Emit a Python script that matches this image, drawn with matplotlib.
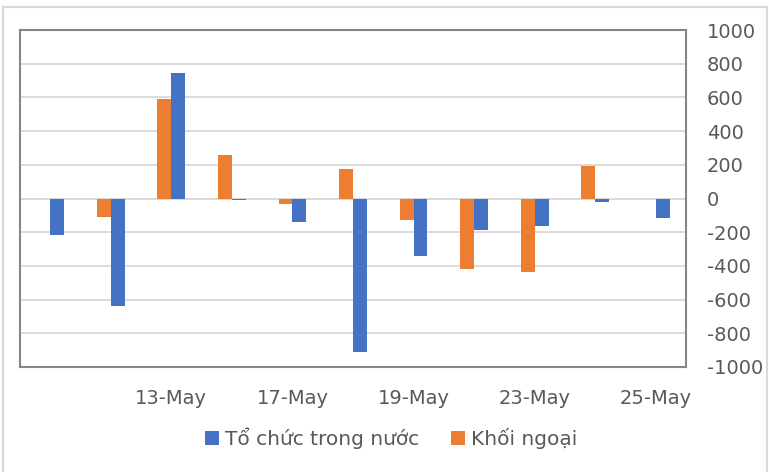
import matplotlib.pyplot as plt
import numpy as np
from matplotlib.patches import Rectangle

dates = ["11-May", "12-May", "13-May", "16-May", "17-May", "18-May",
         "19-May", "20-May", "23-May", "24-May", "25-May"]
to_chuc = [-215, -638, 747, -8, -139, -913, -341, -187, -163, -21, -118]
khoi_ngoai = [0, -110, 589, 256, -34, 177, -128, -420, -436, 195, 0]
shown_ticks = [2, 4, 6, 8, 10]

BLUE = "#4472C4"
ORANGE = "#ED7D31"
GREY = "#595959"

plt.rcParams['font.family'] = ['DejaVu Sans']
plt.rcParams['axes.unicode_minus'] = False

fig = plt.figure(figsize=(7.69, 4.72), dpi=100)
ax = fig.add_axes([20/769, 1 - 367/472, 666/769, 337/472])

x = np.arange(len(dates))
w = 0.23
ax.bar(x - w/2, khoi_ngoai, w, color=ORANGE, label="Khối ngoại", zorder=3)
ax.bar(x + w/2, to_chuc, w, color=BLUE, label="Tổ chức trong nước", zorder=3)

ax.set_xlim(-0.5, len(dates) - 0.5)
ax.set_ylim(-1000, 1000)
ax.set_yticks(range(-1000, 1001, 200))
ax.yaxis.tick_right()
ax.tick_params(axis='y', length=0, pad=15, labelsize=14, labelcolor=GREY)
ax.set_xticks(shown_ticks)
ax.set_xticklabels([dates[i] for i in shown_ticks])
ax.tick_params(axis='x', length=0, pad=16, labelsize=14, labelcolor=GREY)
ax.grid(axis='y', color="#D9D9D9", linewidth=1.3, zorder=0)
ax.axhline(0, color="#D9D9D9", linewidth=1.3, zorder=1)
for s in ax.spines.values():
    s.set_color("#868686")
    s.set_linewidth(1.5)

handles, labels = ax.get_legend_handles_labels()
fig.legend(handles[::-1], labels[::-1], loc='center', bbox_to_anchor=(391/769, 1 - 438/472),
           ncol=2, frameon=False, fontsize=14.5, labelcolor=GREY,
           handlelength=0.7, handleheight=0.7, handletextpad=0.3, columnspacing=1.6)

# outer chart border, bottom edge runs off the image like the reference
fig.patches.append(Rectangle((3/769, -10/472), 764/769, 475/472, transform=fig.transFigure,
                             fill=False, edgecolor="#D9D9D9", linewidth=1.5))

fig.savefig("out.png", dpi=100)
